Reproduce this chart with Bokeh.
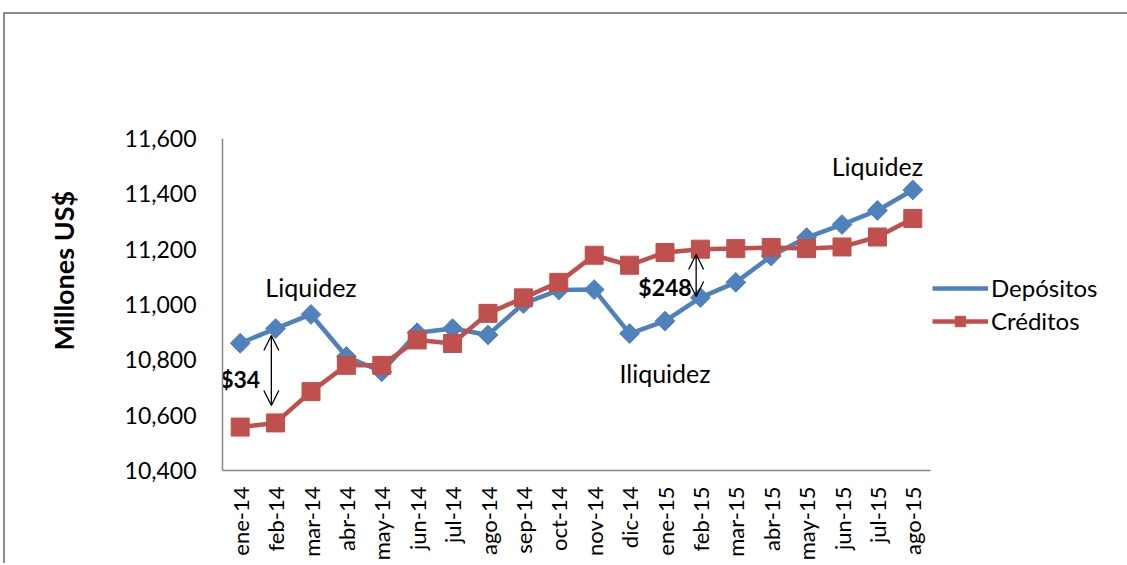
import math
from bokeh.plotting import figure
from bokeh.models import (ColumnDataSource, FixedTicker, NumeralTickFormatter,
                          Legend, LegendItem, Arrow, OpenHead, Title)
from bokeh.core.properties import value
from bokeh.embed import file_html
from bokeh.resources import INLINE

months = ["ene-14", "feb-14", "mar-14", "abr-14", "may-14", "jun-14", "jul-14",
          "ago-14", "sep-14", "oct-14", "nov-14", "dic-14", "ene-15", "feb-15",
          "mar-15", "abr-15", "may-15", "jun-15", "jul-15", "ago-15"]
depositos = [10860, 10913, 10964, 10812, 10757, 10898, 10913, 10890, 11003, 11052,
             11054, 10895, 10940, 11025, 11080, 11175, 11242, 11289, 11340, 11414]
creditos = [10557, 10572, 10685, 10780, 10780, 10872, 10859, 10968, 11024, 11080,
            11178, 11142, 11188, 11200, 11202, 11206, 11202, 11208, 11244, 11311]
y_ticks = [10400, 10600, 10800, 11000, 11200, 11400, 11600]

ann_text = ["Liquidez", "$34", "$248", "Iliquidez", "Liquidez"]
ann_month = ["mar-14", "ene-14", "ene-15", "ene-15", "jul-15"]
ann_value = [11065, 10732, 11065, 10754, 11502]
ann_bold = [False, True, True, False, False]

arrow_month = ["feb-14", "feb-15"]
arrow_top = [10888, 11181]
arrow_bottom = [10635, 11029]

FONT = "Lato"
BLUE = "#4F81BD"
RED = "#C0504D"
AXIS = "#868686"

p = figure(x_range=months, y_range=(10400, 11600),
           frame_width=708, frame_height=332,
           output_backend="svg", toolbar_location=None,
           min_border_left=217, min_border_right=189, min_border_top=124,
           min_border_bottom=85)
p.outline_line_color = None
p.xgrid.grid_line_color = None
p.ygrid.grid_line_color = None
p.x_range.range_padding = 0
p.styles = {"border-top": "2px solid #8c8c8c", "border-left": "2px solid #8c8c8c",
            "margin-top": "12px", "margin-left": "3px"}

src = ColumnDataSource(dict(m=months, d=depositos, c=creditos))
l1 = p.line("m", "d", source=src, line_color=BLUE, line_width=4.5)
s1 = p.scatter("m", "d", source=src, marker="square", angle=math.pi / 4, size=14,
               fill_color=BLUE, line_color=BLUE)
l2 = p.line("m", "c", source=src, line_color=RED, line_width=4.5)
s2 = p.scatter("m", "c", source=src, marker="square", size=18,
               fill_color=RED, line_color=RED)
# legend-only diamond (legend glyphs ignore marker rotation)
s1_leg = p.scatter(x=[], y=[], marker="diamond", size=19,
                   fill_color=BLUE, line_color=BLUE)

for t, m, v, b in zip(ann_text, ann_month, ann_value, ann_bold):
    p.text(x=[m], y=[v], text=[t], text_font=value(FONT),
           text_font_size="23px" if b else "25px",
           text_font_style="bold" if b else "normal",
           text_align="center", text_baseline="middle", text_color="black")

idx = {m: i for i, m in enumerate(months)}
asrc = ColumnDataSource(dict(
    x=[idx[m] + 0.5 - 0.12 for m in arrow_month],
    y0=arrow_top, y1=arrow_bottom))
p.add_layout(Arrow(source=asrc, x_start="x", y_start="y0", x_end="x", y_end="y1",
                   line_color="black", line_width=1.3,
                   start=OpenHead(size=15, line_width=1.3, line_color="black"),
                   end=OpenHead(size=15, line_width=1.3, line_color="black")))

p.yaxis.ticker = FixedTicker(ticks=y_ticks)
p.yaxis.formatter = NumeralTickFormatter(format="0,0")
for ax in (p.xaxis[0], p.yaxis[0]):
    ax.axis_line_color = AXIS
    ax.axis_line_width = 1.5
    ax.major_tick_line_color = None
    ax.minor_tick_line_color = None
    ax.major_label_text_font = FONT
    ax.major_label_text_color = "black"
p.yaxis.major_label_text_font_size = "23px"
p.xaxis.major_label_text_font_size = "22px"
p.yaxis.major_label_standoff = 20
p.xaxis.major_label_orientation = math.pi / 2
p.xaxis.major_label_standoff = 10

ytitle = Title(text="Millones US$", align="left", offset=120,
               vertical_align="middle", standoff=81,
               text_font=FONT, text_font_size="27px",
               text_font_style="bold", text_color="black")
p.add_layout(ytitle, "left")

legend = Legend(items=[LegendItem(label="Depósitos", renderers=[l1, s1_leg]),
                       LegendItem(label="Créditos", renderers=[l2, s2])],
                location="center_left", orientation="vertical")
legend.border_line_color = None
legend.background_fill_alpha = 0
legend.margin = 2
legend.padding = 0
legend.glyph_width = 56
legend.glyph_height = 26
legend.label_height = 26
legend.spacing = 4
legend.label_standoff = 3
legend.label_text_font = FONT
legend.label_text_font_size = "24px"
legend.label_text_color = "black"
p.add_layout(legend, "right")

open("out.html", "w").write(file_html(p, INLINE))
